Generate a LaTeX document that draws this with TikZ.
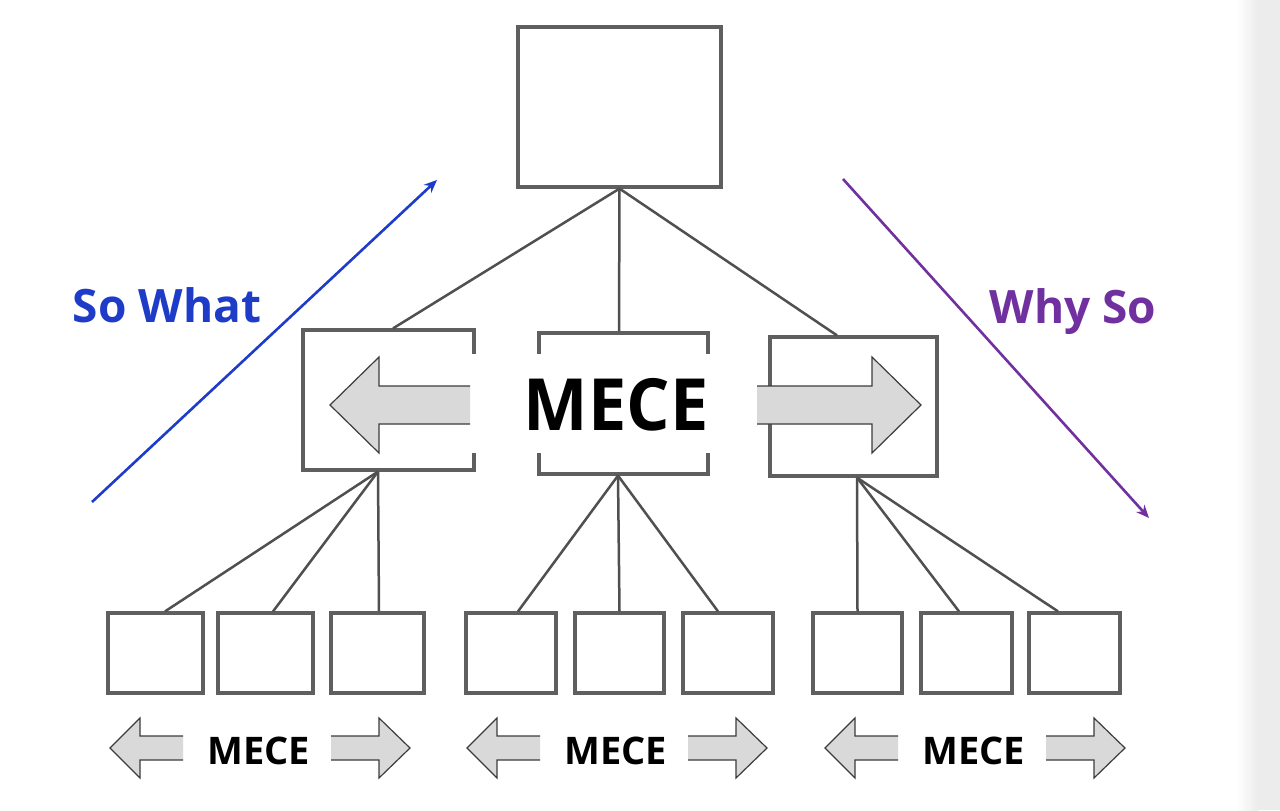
\documentclass[tikz,border=0pt]{standalone}
\usepackage{fontspec}
\newfontfamily\osans{Open Sans}
\usetikzlibrary{arrows.meta}
\definecolor{boxgray}{RGB}{95,95,95}
\definecolor{conngray}{RGB}{80,80,80}
\definecolor{arrfill}{RGB}{217,217,217}
\definecolor{arrline}{RGB}{60,60,60}
\definecolor{swblue}{RGB}{30,60,200}
\definecolor{wspurple}{RGB}{112,48,160}
\newcommand\mecearrow[6]{%
  \fill[arrfill] ({#1},{#2}) -- ({#3},{#2-#5}) -- ({#3},{#2-#6}) -- ({#4},{#2-#6}) -- ({#4},{#2+#6}) -- ({#3},{#2+#6}) -- ({#3},{#2+#5}) -- cycle;
  \draw[arrline, line width=0.6pt, line join=miter] ({#4},{#2-#6}) -- ({#3},{#2-#6}) -- ({#3},{#2-#5}) -- ({#1},{#2}) -- ({#3},{#2+#5}) -- ({#3},{#2+#6}) -- ({#4},{#2+#6});}
\begin{document}
\begin{tikzpicture}[x=0.5pt,y=-0.5pt,
  box/.style 2 args={draw=boxgray, line width=1.6pt, minimum width=#1*0.5pt, minimum height=#2*0.5pt, inner sep=0pt, fill=white},
  conn/.style={draw=conngray, line width=1.25pt},
  bigmece/.style={font=\osans\bfseries\fontsize{36}{36}\selectfont, inner sep=0pt, anchor=base},
  smallmece/.style={font=\osans\bfseries\fontsize{19}{19}\selectfont, inner sep=0pt, anchor=base},
  sidelabel/.style={font=\osans\bfseries\fontsize{23}{23}\selectfont, inner sep=0pt, anchor=base},
  flowarrow/.style={line width=1.3pt, -{Stealth[length=6.5pt,width=5.5pt]}}]
\useasboundingbox (0,0) rectangle (1280,810);
\fill[white] (0,0) rectangle (1280,810);
\shade[left color=white, right color=gray!15] (1236,0) rectangle (1258,810);
\fill[gray!15] (1258,0) rectangle (1280,810);
% boxes
\node[box={203}{160}] (t) at (619.5,107) {};
\node[box={171}{140}] (m1) at (388.5,400) {};
\node[box={169}{141}] (m2) at (623.5,403.5) {};
\node[box={167}{139}] (m3) at (853.5,406.5) {};
\node[box={95}{80}] (b1) at (155.5,653) {};
\node[box={95}{80}] (b2) at (265.5,653) {};
\node[box={93}{80}] (b3) at (377.5,653) {};
\node[box={90}{80}] (b4) at (511,653) {};
\node[box={89}{80}] (b5) at (619.5,653) {};
\node[box={90}{80}] (b6) at (728,653) {};
\node[box={89}{80}] (b7) at (857.5,653) {};
\node[box={91}{80}] (b8) at (966.5,653) {};
\node[box={91}{80}] (b9) at (1074.5,653) {};
% connectors
\draw[conn] (t.south) -- ([xshift=2.25pt]m1.north);
\draw[conn] (t.south) -- ([xshift=-2.25pt]m2.north);
\draw[conn] (t.south) -- ([xshift=-8.25pt]m3.north);
\draw[conn] ([xshift=-5.25pt]m1.south) -- ([xshift=4.75pt]b1.north);
\draw[conn] ([xshift=-5.25pt]m1.south) -- ([xshift=3.75pt]b2.north);
\draw[conn] ([xshift=-5.25pt]m1.south) -- ([xshift=0.75pt]b3.north);
\draw[conn] ([xshift=-2.75pt]m2.south) -- ([xshift=3.5pt]b4.north);
\draw[conn] ([xshift=-2.75pt]m2.south) -- (b5.north);
\draw[conn] ([xshift=-2.75pt]m2.south) -- ([xshift=-5pt]b6.north);
\draw[conn] ([xshift=1.75pt]m3.south) -- (b7.north);
\draw[conn] ([xshift=1.75pt]m3.south) -- ([xshift=-3.75pt]b8.north);
\draw[conn] ([xshift=1.75pt]m3.south) -- ([xshift=-8.25pt]b9.north);
% central MECE band
\fill[white] (471,354) rectangle (758,453);
\mecearrow{330}{405}{379}{470}{48}{19}
\mecearrow{921}{405}{872}{757}{48}{19}
\node[bigmece] (mece) at (616,430) {\scalebox{0.95}[1]{MECE}};
% bottom MECE groups
\foreach \dx/\i in {0/1,357/2,715/3}{
  \mecearrow{110+\dx}{748}{140+\dx}{183+\dx}{30}{12}
  \mecearrow{410+\dx}{748}{379+\dx}{331+\dx}{30}{12}
  \node[smallmece] (mece\i) at ({258.5+\dx},764) {MECE};
}
% So What / Why So
\coordinate (sw1) at (92,502);
\coordinate (sw2) at (437,180);
\coordinate (ws1) at (843,179);
\coordinate (ws2) at (1149,518);
\draw[flowarrow, swblue] (sw1) -- (sw2);
\draw[flowarrow, wspurple] (ws1) -- (ws2);
\node[sidelabel, text=swblue] (sowhat) at (167,322) {So What};
\node[sidelabel, text=wspurple] (whyso) at (1073,323) {Why So};
\end{tikzpicture}
\end{document}
